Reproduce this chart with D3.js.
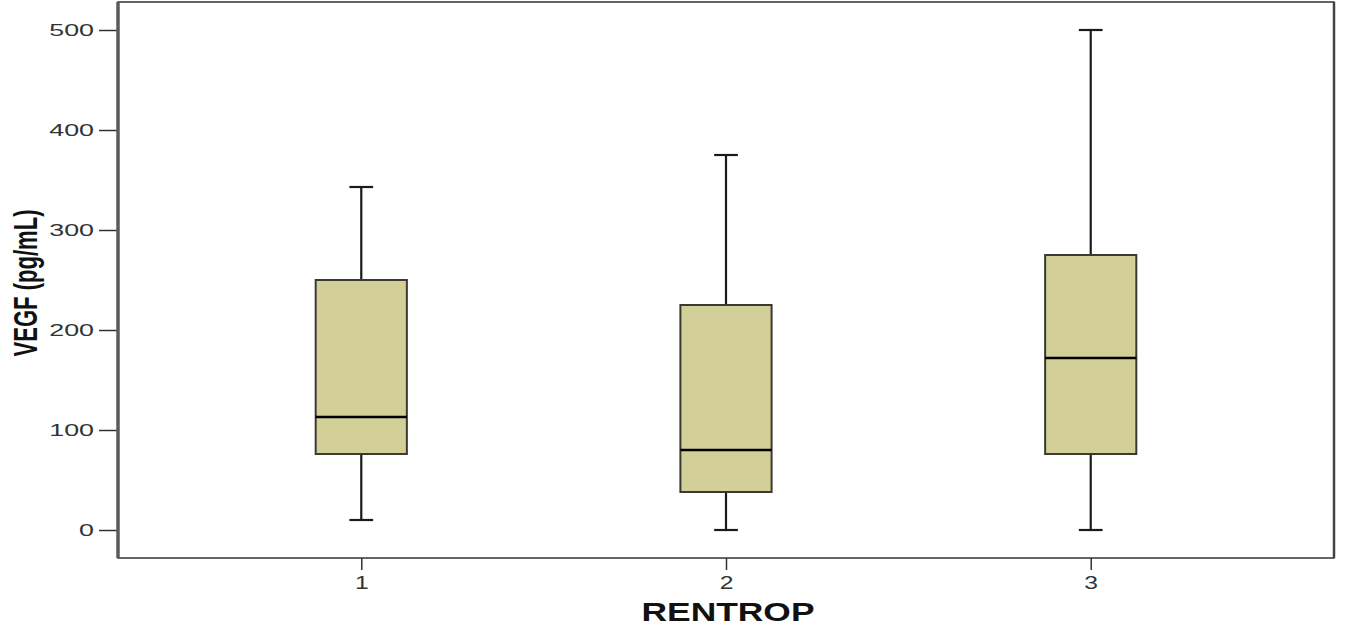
<!DOCTYPE html>
<html>
<head>
<meta charset="utf-8">
<script src="https://cdn.jsdelivr.net/npm/d3@7"></script>
<style>
  html, body { margin: 0; padding: 0; background: #fff; }
  svg { display: block; }
</style>
</head>
<body>
<svg id="chart" width="1351" height="628"></svg>
<script>
// ---- data ----
const categories = ["1", "2", "3"];
const whiskerLow = [10, 0, 0];
const q1 = [76, 38, 76];
const median = [113, 80, 172];
const q3 = [250, 225, 275];
const whiskerHigh = [343, 375, 500];
const yTicks = [0, 100, 200, 300, 400, 500];
const xTitle = "RENTROP";
const yTitle = "VEGF (pg/mL)";

// ---- layout ----
const frame = { left: 118, top: 2, right: 1334, bottom: 558 };
const fillColor = "#d3cf99";
const fontFamily = "'Liberation Sans', Arial, sans-serif";

const svg = d3.select("#chart");

const x = d3.scalePoint()
  .domain(categories)
  .range([frame.left, frame.right])
  .padding(0.667);

const y = d3.scaleLinear()
  .domain([-28, 528])
  .range([frame.bottom, frame.top]);

const boxW = x.step() * 0.25;
const capW = boxW * 0.26;

// frame
svg.append("rect")
  .attr("x", frame.left).attr("y", frame.top)
  .attr("width", frame.right - frame.left)
  .attr("height", frame.bottom - frame.top)
  .attr("fill", "none")
  .attr("stroke", "#333")
  .attr("stroke-width", 1.5);
svg.append("line")
  .attr("x1", frame.right).attr("x2", frame.right)
  .attr("y1", frame.top).attr("y2", frame.bottom)
  .attr("stroke", "#444").attr("stroke-width", 2.5);

const rows = categories.map((c, i) => ({
  c, lo: whiskerLow[i], q1: q1[i], med: median[i], q3: q3[i], hi: whiskerHigh[i]
}));

const g = svg.append("g").selectAll("g").data(rows).join("g");

// whiskers
g.append("line")
  .attr("x1", d => x(d.c)).attr("x2", d => x(d.c))
  .attr("y1", d => y(d.q3)).attr("y2", d => y(d.hi))
  .attr("stroke", "#1a1a1a").attr("stroke-width", 2.2);
g.append("line")
  .attr("x1", d => x(d.c)).attr("x2", d => x(d.c))
  .attr("y1", d => y(d.q1)).attr("y2", d => y(d.lo))
  .attr("stroke", "#1a1a1a").attr("stroke-width", 2.2);
// caps
g.append("line")
  .attr("x1", d => x(d.c) - capW / 2).attr("x2", d => x(d.c) + capW / 2)
  .attr("y1", d => y(d.hi)).attr("y2", d => y(d.hi))
  .attr("stroke", "#1a1a1a").attr("stroke-width", 2.2);
g.append("line")
  .attr("x1", d => x(d.c) - capW / 2).attr("x2", d => x(d.c) + capW / 2)
  .attr("y1", d => y(d.lo)).attr("y2", d => y(d.lo))
  .attr("stroke", "#1a1a1a").attr("stroke-width", 2.2);
// box
g.append("rect")
  .attr("x", d => x(d.c) - boxW / 2)
  .attr("width", boxW)
  .attr("y", d => y(d.q3))
  .attr("height", d => y(d.q1) - y(d.q3))
  .attr("fill", fillColor)
  .attr("stroke", "#3a3a30")
  .attr("stroke-width", 2);
// median
g.append("line")
  .attr("x1", d => x(d.c) - boxW / 2).attr("x2", d => x(d.c) + boxW / 2)
  .attr("y1", d => y(d.med)).attr("y2", d => y(d.med))
  .attr("stroke", "#000").attr("stroke-width", 2.5);

// y axis
const yAxis = d3.axisLeft(y).tickValues(yTicks).tickSize(19).tickPadding(4).tickSizeOuter(0);
const yG = svg.append("g").attr("transform", `translate(${frame.left},0)`).call(yAxis);
yG.select(".domain").remove();
yG.selectAll(".tick line").attr("stroke", "#333").attr("stroke-width", 1.5);
const sx = 1.58;
yG.selectAll(".tick text")
  .attr("font-family", fontFamily)
  .attr("font-size", 17)
  .attr("fill", "#333")
  .attr("x", -24 / sx)
  .attr("transform", `scale(${sx},1)`);
svg.append("line")
  .attr("x1", frame.left).attr("x2", frame.left)
  .attr("y1", frame.top).attr("y2", frame.bottom)
  .attr("stroke", "#5a5a5a").attr("stroke-width", 3.5);

// x axis
const xAxis = d3.axisBottom(x).tickSize(12).tickPadding(6).tickSizeOuter(0);
const xG = svg.append("g").attr("transform", `translate(0,${frame.bottom})`).call(xAxis);
xG.select(".domain").remove();
xG.selectAll(".tick line").attr("stroke", "#333").attr("stroke-width", 1.5);
xG.selectAll(".tick text")
  .attr("font-family", fontFamily)
  .attr("font-size", 19)
  .attr("fill", "#333")
  .attr("x", 0)
  .attr("transform", "scale(1.3,1)");

// x title
svg.append("text")
  .attr("x", (frame.left + frame.right) / 2 + 2)
  .attr("y", 621)
  .attr("text-anchor", "middle")
  .attr("font-family", fontFamily)
  .attr("font-weight", "bold")
  .attr("font-size", 26)
  .attr("fill", "#111")
  .attr("textLength", 173)
  .attr("lengthAdjust", "spacingAndGlyphs")
  .text(xTitle);

// y title
svg.append("text")
  .attr("transform", "translate(26,283) rotate(-90) scale(1,1.5)")
  .attr("text-anchor", "middle")
  .attr("dominant-baseline", "central")
  .attr("font-family", fontFamily)
  .attr("font-weight", "bold")
  .attr("font-size", 22)
  .attr("fill", "#111")
  .attr("textLength", 147)
  .attr("lengthAdjust", "spacingAndGlyphs")
  .text(yTitle);
</script>
</body>
</html>
